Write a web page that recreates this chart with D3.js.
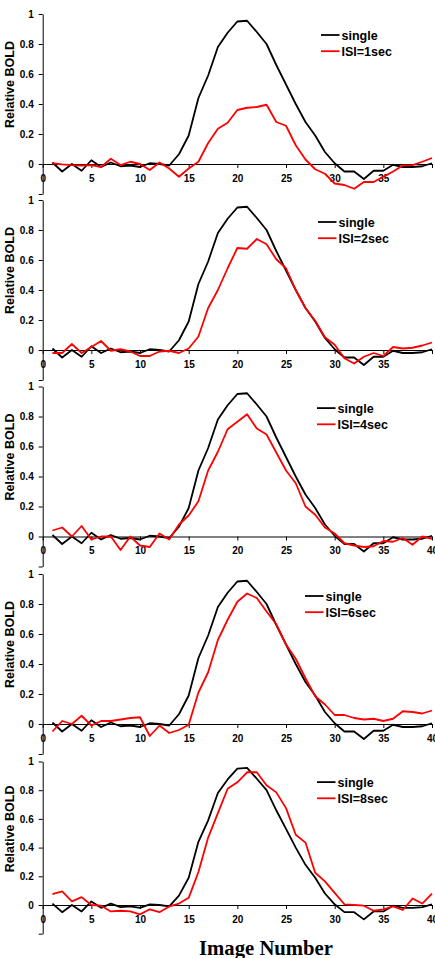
<!DOCTYPE html>
<html>
<head>
<meta charset="utf-8">
<script src="https://cdn.jsdelivr.net/npm/d3@7"></script>
<style>
  body { margin: 0; background: #fff; }
  svg text { font-family: Arial, "Liberation Sans", sans-serif; }
</style>
</head>
<body>
<div id="chart"></div>
<script>
// Data
var imageNumbers = [1, 2, 3, 4, 5, 6, 7, 8, 9, 10, 11, 12, 13, 14, 15, 16, 17, 18, 19, 20,
                    21, 22, 23, 24, 25, 26, 27, 28, 29, 30, 31, 32, 33, 34, 35, 36, 37, 38, 39, 40];

var single = [0.01, -0.05, 0.0, -0.045, 0.025, -0.02, 0.01, -0.015, -0.01, -0.02,
              0.005, 0.0, -0.01, 0.065, 0.19, 0.44, 0.59, 0.78, 0.875, 0.95,
              0.955, 0.88, 0.80, 0.66, 0.53, 0.40, 0.28, 0.19, 0.08, 0.005,
              -0.05, -0.05, -0.10, -0.045, -0.045, -0.005, -0.02, -0.02, -0.015, 0.005];

var isi1 = [0.005, -0.002, -0.007, -0.01, -0.007, -0.02, 0.035, -0.007, 0.015, 0.0,
            -0.04, 0.01, -0.03, -0.085, -0.03, 0.015, 0.14, 0.235, 0.275, 0.36,
            0.375, 0.38, 0.395, 0.28, 0.255, 0.125, 0.03, -0.035, -0.065, -0.13,
            -0.14, -0.165, -0.12, -0.12, -0.085, -0.05, -0.01, -0.007, 0.015, 0.04];

var isi2 = [-0.02, -0.02, 0.04, -0.02, 0.02, 0.06, -0.005, 0.005, -0.01, -0.04,
            -0.04, -0.01, -0.005, -0.02, 0.01, 0.09, 0.28, 0.40, 0.545, 0.68,
            0.675, 0.74, 0.705, 0.605, 0.545, 0.40, 0.28, 0.195, 0.085, 0.035,
            -0.055, -0.09, -0.045, -0.02, -0.04, 0.02, 0.01, 0.015, 0.03, 0.05];

var isi4 = [0.04, 0.06, 0.0, 0.07, -0.02, 0.0, 0.0, -0.09, 0.0, -0.06,
            -0.07, 0.02, -0.02, 0.08, 0.14, 0.235, 0.44, 0.565, 0.715, 0.765,
            0.815, 0.72, 0.68, 0.56, 0.44, 0.355, 0.20, 0.145, 0.06, 0.02,
            -0.045, -0.06, -0.07, -0.065, -0.03, -0.035, -0.01, -0.055, 0.0, -0.015];

var isi6 = [-0.05, 0.02, 0.0, 0.055, -0.01, 0.02, 0.02, 0.03, 0.04, 0.045,
            -0.08, -0.01, -0.06, -0.04, -0.005, 0.21, 0.345, 0.56, 0.695, 0.815,
            0.87, 0.84, 0.75, 0.665, 0.53, 0.435, 0.305, 0.185, 0.13, 0.06,
            0.06, 0.04, 0.03, 0.035, 0.02, 0.035, 0.085, 0.08, 0.07, 0.09];

var isi8 = [0.075, 0.095, 0.025, 0.055, 0.0, -0.005, -0.045, -0.04, -0.045, -0.065,
            -0.03, -0.05, -0.01, 0.01, 0.05, 0.23, 0.47, 0.64, 0.81, 0.855,
            0.925, 0.925, 0.835, 0.785, 0.675, 0.49, 0.435, 0.225, 0.165, 0.085,
            0.005, 0.0, -0.005, -0.04, -0.03, -0.01, -0.035, 0.045, 0.01, 0.08];

var isiSeries = [isi1, isi2, isi4, isi6, isi8];
var isiLabels = ["ISI=1sec", "ISI=2sec", "ISI=4sec", "ISI=6sec", "ISI=8sec"];
var singleLabel = "single";

var yTicks = [-0.2, 0, 0.2, 0.4, 0.6, 0.8, 1];
var xTicks = [0, 5, 10, 15, 20, 25, 30, 35, 40];
var yTitle = "Relative BOLD";
var xTitle = "Image Number";

// Layout of the five stacked panels (pixel positions, not data)
var width = 435, height = 958;
var panelTop = [14, 200, 386.5, 574, 761.5];   // y of value 1
var unitHeight = [150, 150, 150, 150, 143.5];   // px per 1.0
var legendX = [321, 318, 317, 305, 317];
var legendDy = [21, 22, 21.6, 22, 20.6];
var showLastX = [false, false, true, true, true];

var svg = d3.select("#chart").append("svg")
    .attr("width", width)
    .attr("height", height);

var x = d3.scaleLinear().domain([0, 40]).range([42.7, 432]);

var line = d3.line()
    .x(function(d) { return x(d.x); })
    .y(function(d) { return d.y; });

isiSeries.forEach(function(series, p) {
  var y = d3.scaleLinear()
      .domain([-0.2, 1])
      .range([panelTop[p] + 1.2 * unitHeight[p], panelTop[p]]);

  var g = svg.append("g").attr("class", "panel");

  // y axis
  var yAxis = d3.axisLeft(y)
      .tickValues(yTicks)
      .tickSize(4)
      .tickSizeOuter(0)
      .tickPadding(5)
      .tickFormat(function(d) { return d < 0 ? "" : d3.format("")(d); });

  g.append("g")
      .attr("class", "y axis")
      .attr("transform", "translate(" + x(0) + ",0)")
      .call(yAxis);

  // x axis sits on the zero line
  var last = showLastX[p];
  var xAxis = d3.axisBottom(x)
      .tickValues(xTicks)
      .tickSize(4)
      .tickSizeOuter(0)
      .tickPadding(6.5)
      .tickFormat(function(d) { return (d === 40 && !last) ? "" : d; });

  g.append("g")
      .attr("class", "x axis")
      .attr("transform", "translate(0," + y(0) + ")")
      .call(xAxis);

  g.selectAll(".axis path, .axis line")
      .attr("stroke", "#000")
      .attr("stroke-width", 1);
  g.selectAll(".axis text")
      .attr("font-size", "10px")
      .attr("font-weight", "bold")
      .attr("fill", "#000")
      .style("font-family", "Arial, 'Liberation Sans', sans-serif");

  // y title
  g.append("text")
      .attr("transform", "translate(14," + y(0.53) + ") rotate(-90)")
      .attr("text-anchor", "middle")
      .attr("font-size", "12.5px")
      .attr("font-weight", "bold")
      .text(yTitle);

  // lines
  var singlePts = imageNumbers.map(function(n, i) { return { x: n, y: y(single[i]) }; });
  var isiPts = imageNumbers.map(function(n, i) { return { x: n, y: y(series[i]) }; });

  g.append("path")
      .datum(singlePts)
      .attr("fill", "none")
      .attr("stroke", "#000")
      .attr("stroke-width", 1.8)
      .attr("stroke-linejoin", "round")
      .attr("d", line);

  g.append("path")
      .datum(isiPts)
      .attr("fill", "none")
      .attr("stroke", "#ff0000")
      .attr("stroke-width", 1.8)
      .attr("stroke-linejoin", "round")
      .attr("d", line);

  // legend
  var items = [{ label: singleLabel, color: "#000" }, { label: isiLabels[p], color: "#ff0000" }];
  items.forEach(function(it, k) {
    var ly = panelTop[p] + legendDy[p] + k * 16.2;
    g.append("line")
        .attr("x1", legendX[p]).attr("x2", legendX[p] + 18.5)
        .attr("y1", ly).attr("y2", ly)
        .attr("stroke", it.color)
        .attr("stroke-width", 1.8);
    g.append("text")
        .attr("x", legendX[p] + 20.5)
        .attr("y", ly)
        .attr("dy", "0.36em")
        .attr("font-size", "12.5px")
        .attr("font-weight", "bold")
        .text(it.label);
  });
});

// shared x title
svg.append("text")
    .attr("x", 266)
    .attr("y", 955)
    .attr("text-anchor", "middle")
    .attr("font-size", "20.7px")
    .attr("font-weight", "bold")
    .style("font-family", "'Times New Roman', 'Liberation Serif', serif")
    .text(xTitle);
</script>
</body>
</html>
